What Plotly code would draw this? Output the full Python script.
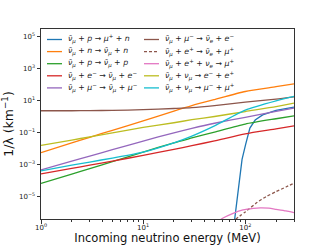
import plotly.graph_objects as go

# ---- data ----
energy = [1, 2, 3, 5, 10, 20, 30, 50, 100, 200, 300]  # MeV

nc_n = [5.89e-3, 2.34e-2, 5.25e-2, 0.145, 0.562, 2.29, 5.01, 12.0, 38.0, 75.9, 115]
mu_decay = [2.40, 2.40, 2.45, 2.51, 2.82, 3.31, 3.72, 5.01, 8.32, 12.6, 17.4]
ee_pair = [0.0166, 0.0355, 0.0562, 0.100, 0.219, 0.427, 0.661, 1.05, 2.14, 4.27, 7.08]
nc_mu = [4.90e-4, 1.70e-3, 3.55e-3, 8.91e-3, 0.0309, 0.100, 0.191, 0.398, 0.933, 2.19, 3.47]
nc_p = [7.08e-5, 2.69e-4, 5.89e-4, 1.58e-3, 6.31e-3, 0.0240, 0.0479, 0.112, 0.355, 0.759, 1.15]
nc_e = [2.75e-4, 6.03e-4, 9.55e-4, 1.74e-3, 3.89e-3, 9.33e-3, 0.0158, 0.0316, 0.0871, 0.178, 0.275]
mumu_pair = [4.27e-4, 9.55e-4, 1.51e-3, 2.69e-3, 6.31e-3, 0.0240, 0.0631, 0.275, 2.63, 10.0, 19.1]

energy_cc_p = [78, 86, 93, 101, 111, 125, 148, 200, 300]
cc_p = [2.5e-7, 6.31e-5, 2.24e-3, 0.0200, 0.200, 0.631, 1.32, 2.51, 4.07]

energy_cc_e = [80, 100, 130, 160, 200, 250, 300]
cc_e = [3.98e-7, 1.17e-6, 4.47e-6, 1.05e-5, 2.14e-5, 4.17e-5, 7.24e-5]

energy_abs = [55, 60, 76, 95, 120, 140, 170, 200, 250, 300]
abs_e = [3.16e-7, 4.68e-7, 9.55e-7, 1.55e-6, 1.95e-6, 2.09e-6, 2.00e-6, 1.70e-6, 1.35e-6, 1.05e-6]

NB = "<i>ν̄</i><sub><i>μ</i></sub>"
labels = [
    NB + " + <i>p</i> → <i>μ</i><sup>+</sup> + <i>n</i>",
    NB + " + <i>n</i> → " + NB + " + <i>n</i>",
    NB + " + <i>p</i> → " + NB + " + <i>p</i>",
    NB + " + <i>e</i><sup>−</sup> → " + NB + " + <i>e</i><sup>−</sup>",
    NB + " + <i>μ</i><sup>−</sup> → " + NB + " + <i>μ</i><sup>−</sup>",
    NB + " + <i>μ</i><sup>−</sup> → <i>ν̄</i><sub><i>e</i></sub> + <i>e</i><sup>−</sup>",
    NB + " + <i>e</i><sup>+</sup> → <i>ν̄</i><sub><i>e</i></sub> + <i>μ</i><sup>+</sup>",
    NB + " + <i>e</i><sup>+</sup> + <i>ν</i><sub><i>e</i></sub> → <i>μ</i><sup>+</sup>",
    NB + " + <i>ν</i><sub><i>μ</i></sub> → <i>e</i><sup>−</sup> + <i>e</i><sup>+</sup>",
    NB + " + <i>ν</i><sub><i>μ</i></sub> → <i>μ</i><sup>−</sup> + <i>μ</i><sup>+</sup>",
]
xs = [energy_cc_p, energy, energy, energy, energy, energy, energy_cc_e, energy_abs, energy, energy]
ys = [cc_p, nc_n, nc_p, nc_e, nc_mu, mu_decay, cc_e, abs_e, ee_pair, mumu_pair]
colors = ["#1f77b4", "#ff7f0e", "#2ca02c", "#d62728", "#9467bd",
          "#8c564b", "#8c564b", "#e377c2", "#bcbd22", "#17becf"]
dashes = ["solid"] * 6 + ["3px,2px"] + ["solid"] * 3

y_ticks = [1e-5, 1e-3, 1e-1, 1e1, 1e3, 1e5]
y_ticktext = ["10<sup>−5</sup>", "10<sup>−3</sup>", "10<sup>−1</sup>",
              "10<sup>1</sup>", "10<sup>3</sup>", "10<sup>5</sup>"]
x_ticks = [1, 10, 100]
x_ticktext = ["10<sup>0</sup>", "10<sup>1</sup>", "10<sup>2</sup>"]
x_minor = [2, 3, 4, 5, 6, 7, 8, 9, 20, 30, 40, 50, 60, 70, 80, 90, 200, 300]

fig = go.Figure()
for i in range(len(labels)):
    fig.add_trace(go.Scatter(
        x=xs[i], y=ys[i], mode="lines", name=labels[i], showlegend=False,
        line=dict(color=colors[i], width=1.3, dash=dashes[i],
                  shape="linear" if i == 0 else "spline", smoothing=0.6),
    ))

# legend drawn as two columns of samples + labels
W, H, L, T = 253.0, 190.0, 41.0, 29.0
for i, lab in enumerate(labels):
    col, row = divmod(i, 5)
    py = 39.5 + 12.1 * row
    yp = 1 - (py - T) / H
    x0 = (47 - L) / W if col == 0 else (144 - L) / W
    fig.add_shape(type="line", xref="paper", yref="paper",
                  x0=x0, x1=x0 + 15 / W, y0=yp, y1=yp,
                  line=dict(color=colors[i], width=1.3, dash=dashes[i]))
    fig.add_annotation(xref="paper", yref="paper", x=x0 + 19 / W, y=yp,
                       xanchor="left", yanchor="middle", showarrow=False,
                       text=lab, font=dict(family="DejaVu Sans", size=7.8, color="#222"))

axis_common = dict(
    type="log", showgrid=False, zeroline=False, showline=True, mirror=True,
    linecolor="#333", linewidth=1, ticks="outside", ticklen=3.5, tickcolor="#333",
    tickfont=dict(family="DejaVu Sans", size=7, color="#222"),
)
fig.update_xaxes(
    **axis_common, range=[0, 2.4771], tickmode="array", tickvals=x_ticks,
    ticktext=x_ticktext, ticklabelstandoff=-2,
    minor=dict(tickmode="array", tickvals=x_minor, ticks="outside", ticklen=2,
               tickcolor="#333", showgrid=False),
    title=dict(text="Incoming neutrino energy (MeV)", standoff=5,
               font=dict(family="DejaVu Sans", size=11.5, color="#111")),
)
fig.update_yaxes(
    **axis_common, range=[-6.375, 5.48], tickmode="array", tickvals=y_ticks,
    ticktext=y_ticktext,
    title=dict(text="1/λ (km<sup>−1</sup>)", standoff=4,
               font=dict(family="DejaVu Sans", size=12.5, color="#111")),
)
fig.update_layout(
    width=327, height=245, margin=dict(l=41, r=33, t=29, b=26, autoexpand=False),
    paper_bgcolor="white", plot_bgcolor="white",
)
fig.write_html("out.html", config={"displayModeBar": False},
               post_script="document.body.style.margin='0';document.body.style.padding='0';")
